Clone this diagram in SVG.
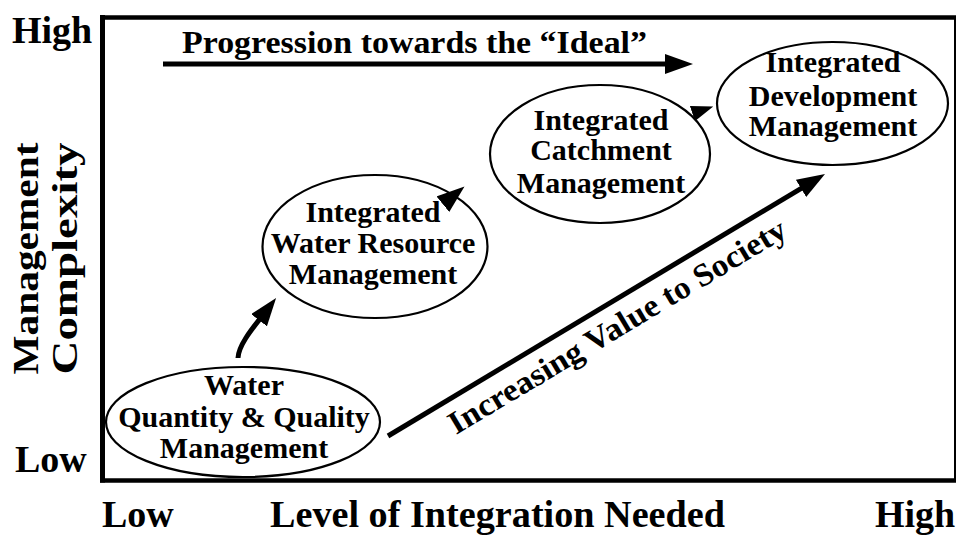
<svg xmlns="http://www.w3.org/2000/svg" width="956" height="538" viewBox="0 0 956 538">
  <style>
    text { font-family: "Liberation Serif", "Times New Roman", serif; font-weight: bold; fill: #000; }
    .axis { font-size: 38px; }
    .node { font-size: 30px; text-anchor: middle; }
    .title { font-size: 32px; }
    .diag { font-size: 32px; }
    .vlab { font-size: 36px; text-anchor: middle; }
    ellipse { fill: #fff; stroke: #000; stroke-width: 2.2; }
    .frame { stroke: #000; fill: none; }
    .conn { stroke: #000; fill: none; stroke-width: 5; }
    .conn-thin { stroke: #000; fill: none; stroke-width: 2.5; }
  </style>
  <defs>
    <marker id="ah" viewBox="0 0 28 20" markerWidth="28" markerHeight="20" refX="10" refY="10" orient="auto" markerUnits="userSpaceOnUse">
      <path d="M0,0 L28,10 L0,20 Z" fill="#000"/>
    </marker>
    <marker id="ahs" viewBox="0 0 22 16" markerWidth="22" markerHeight="16" refX="8" refY="8" orient="auto" markerUnits="userSpaceOnUse">
      <path d="M0,0 L22,8 L0,16 Z" fill="#000"/>
    </marker>
  </defs>
  <rect width="956" height="538" fill="#fff"/>

  <g id="frame">
    <path class="frame" d="M955,17 V481" stroke-width="2"/>
    <path class="frame" d="M100,17.5 H956" stroke-width="4.5"/>
    <path class="frame" d="M100,480.5 H956" stroke-width="4.5"/>
    <path class="frame" d="M102.5,15 V482.5" stroke-width="5"/>
  </g>

  <g id="axis-labels">
    <text class="axis" x="12" y="43">High</text>
    <text class="axis" x="15" y="472">Low</text>
    <text class="axis" x="102" y="527">Low</text>
    <text class="axis" x="270" y="527" textLength="455" lengthAdjust="spacingAndGlyphs">Level of Integration Needed</text>
    <text class="axis" x="875" y="527">High</text>
    <text class="vlab" transform="translate(38,258.5) rotate(-90)" x="0" y="0" textLength="232" lengthAdjust="spacingAndGlyphs">Management</text>
    <text class="vlab" transform="translate(77,258.5) rotate(-90)" x="0" y="0" textLength="232" lengthAdjust="spacingAndGlyphs">Complexity</text>
  </g>

  <g id="labels">
    <text class="title" x="182" y="53" textLength="465" lengthAdjust="spacingAndGlyphs">Progression towards the “Ideal”</text>
    <text class="diag" transform="translate(456.1,434.9) rotate(-30.9)" x="0" y="0" textLength="388" lengthAdjust="spacingAndGlyphs">Increasing Value to Society</text>
  </g>

  <g id="node-wqq">
    <ellipse cx="243" cy="422" rx="137" ry="55"/>
    <text class="node" x="244" y="395">Water</text>
    <text class="node" x="244" y="427">Quantity &amp; Quality</text>
    <text class="node" x="244" y="458">Management</text>
  </g>

  <g id="node-iwrm">
    <ellipse cx="375" cy="246.5" rx="112.5" ry="71.5"/>
    <text class="node" x="373" y="222">Integrated</text>
    <text class="node" x="373" y="253">Water Resource</text>
    <text class="node" x="373" y="284">Management</text>
  </g>

  <g id="node-icm">
    <ellipse cx="600" cy="154" rx="110" ry="69"/>
    <text class="node" x="601" y="129.5">Integrated</text>
    <text class="node" x="601" y="160">Catchment</text>
    <text class="node" x="601" y="193">Management</text>
  </g>

  <g id="node-idm">
    <ellipse cx="832.5" cy="103.5" rx="115.5" ry="61.5"/>
    <text class="node" x="833" y="72">Integrated</text>
    <text class="node" x="833" y="106">Development</text>
    <text class="node" x="833" y="136">Management</text>
  </g>

  <g id="connectors">
    <path id="arrow-progression" class="conn" d="M163,64 H675" marker-end="url(#ah)"/>
    <path id="arrow-value" class="conn" d="M388,436 L809.6,183.3" marker-end="url(#ah)"/>
    <path id="arrow-wqq-iwrm" class="conn" d="M238,358 C238.5,344 255,325.4 265.1,312.3" marker-end="url(#ah)"/>
    <path id="arrow-iwrm-icm" class="conn-thin" d="M445,202.5 L450.6,197.9" marker-end="url(#ah)"/>
    <path id="arrow-icm-idm" class="conn-thin" d="M694,119 Q697,112 700,111" marker-end="url(#ahs)"/>
  </g>
</svg>
